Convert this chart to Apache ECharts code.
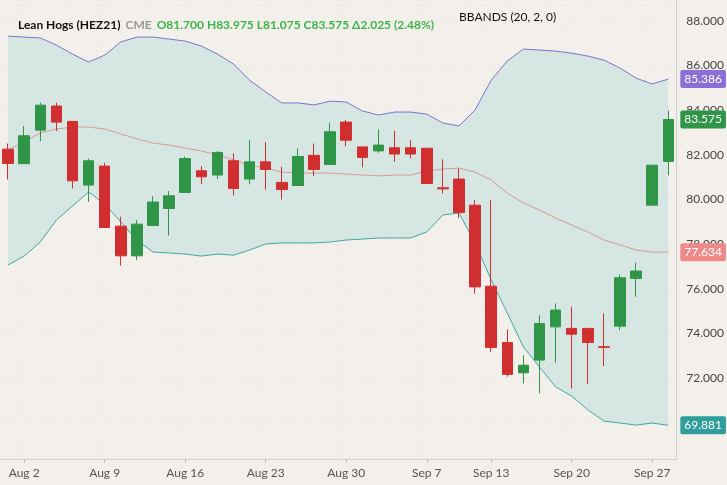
<!DOCTYPE html>
<html>
<head>
<meta charset="utf-8">
<script src="https://cdn.jsdelivr.net/npm/echarts@6/dist/echarts.min.js"></script>
<style>
  html, body { margin: 0; padding: 0; background: #f3f0eb; }
  #chart { width: 727px; height: 485px; }
</style>
</head>
<body>
<div id="chart"></div>
<script>
// trading days, Jul 30 .. Sep 28
var dates = ['Jul 30',
  'Aug 2','Aug 3','Aug 4','Aug 5','Aug 6',
  'Aug 9','Aug 10','Aug 11','Aug 12','Aug 13',
  'Aug 16','Aug 17','Aug 18','Aug 19','Aug 20',
  'Aug 23','Aug 24','Aug 25','Aug 26','Aug 27',
  'Aug 30','Aug 31','Sep 1','Sep 2','Sep 3',
  'Sep 7','Sep 8','Sep 9','Sep 10',
  'Sep 13','Sep 14','Sep 15','Sep 16','Sep 17',
  'Sep 20','Sep 21','Sep 22','Sep 23','Sep 24',
  'Sep 27','Sep 28'];
var tickDates = ['Aug 2','Aug 9','Aug 16','Aug 23','Aug 30','Sep 7','Sep 13','Sep 20','Sep 27'];

var opens  = [82.25,81.60,83.10,84.18,83.49,80.64,81.49,78.80,77.47,78.83,79.59,80.31,81.28,81.09,81.73,80.91,81.68,80.76,80.62,81.97,81.56,83.46,82.35,82.17,82.31,82.31,82.29,80.52,80.91,79.74,76.11,73.59,72.23,72.80,74.29,74.22,74.22,73.40,74.32,76.46,79.74,81.70];
var closes = [81.61,82.85,84.22,83.46,80.83,81.73,78.74,77.47,78.89,79.88,80.16,81.83,81.01,82.10,80.49,81.68,81.34,80.44,81.92,81.34,83.03,82.65,81.88,82.43,82.03,82.03,80.71,80.47,79.41,76.08,73.37,72.16,72.57,74.44,75.04,73.96,73.59,73.37,76.49,76.79,81.53,83.575];
var lows   = [80.89,81.60,82.61,83.06,80.49,79.89,78.74,77.04,77.28,78.83,78.38,80.31,80.68,80.91,80.17,80.67,80.44,79.99,80.62,81.04,81.56,82.38,81.43,82.09,81.68,81.83,80.68,80.26,79.17,75.78,73.17,72.05,71.75,71.31,72.69,71.53,71.72,72.53,74.14,75.64,79.74,81.075];
var highs  = [82.50,83.28,84.33,84.33,83.49,81.82,81.64,79.22,79.07,80.14,80.37,81.91,81.49,82.16,82.06,82.65,82.56,81.46,82.28,82.50,83.43,83.55,82.35,83.13,83.07,82.65,82.29,81.79,81.38,79.97,79.97,74.17,73.02,74.81,75.34,75.19,74.22,74.89,76.64,77.16,81.53,83.975];

var upperBand  = [87.31,87.27,87.23,86.91,86.51,86.15,86.46,87.05,87.27,87.27,87.18,87.09,86.87,86.51,86.06,85.34,84.81,84.32,84.32,84.23,84.40,84.36,83.96,83.78,83.91,83.91,83.82,83.42,83.29,84.00,85.34,86.20,86.73,86.69,86.64,86.55,86.42,86.24,85.88,85.43,85.17,85.386];
var middleBand = [82.21,82.57,82.97,83.15,83.24,83.24,83.15,82.93,82.71,82.52,82.43,82.30,82.17,81.99,81.77,81.54,81.40,81.22,81.18,81.18,81.18,81.13,81.09,81.05,81.09,81.09,81.27,81.36,81.40,81.22,80.87,80.28,79.84,79.52,79.16,78.85,78.54,78.18,77.96,77.73,77.64,77.634];
var lowerBand  = [77.06,77.46,78.09,79.07,79.70,80.33,79.79,78.99,78.18,77.64,77.60,77.55,77.46,77.55,77.50,77.73,78.00,78.05,78.05,78.05,78.09,78.18,78.22,78.27,78.27,78.27,78.54,79.30,79.39,78.05,76.39,74.91,73.39,72.49,71.60,71.19,70.57,70.07,69.98,69.89,69.98,69.881];

var GREEN = '#2f9647', RED = '#d12f2f';
var UP = '#7d74cc', MID = '#d99a98', LOW = '#3fa8a2';

var candles = dates.map(function (d, i) { return [opens[i], closes[i], lows[i], highs[i]]; });
var bandWidth = upperBand.map(function (u, i) { return +(u - lowerBand[i]).toFixed(3); });

function tag(bg) {
  return { show: true, distance: 12, backgroundColor: bg, color: '#fff', fontSize: 12,
    fontFamily: 'Lato', padding: [3, 4], borderRadius: 2,
    formatter: function (p) { return p.value.toFixed(3); } };
}

var myChart = echarts.init(document.getElementById('chart'));
var option = {
  backgroundColor: '#f3f0eb',
  animation: false,
  title: {
    left: 13, top: 11,
    text: '{n|Lean Hogs (HEZ21)} {g|CME} {v|O81.700 H83.975 L81.075 C83.575 Δ2.025 (2.48%)}',
    textStyle: {
      rich: {
        n: { fontFamily: 'Lato', fontSize: 12, color: '#111' },
        g: { fontFamily: 'Lato', fontSize: 12, color: '#999' },
        v: { fontFamily: 'Lato', fontSize: 12, color: '#3cb44a' }
      }
    }
  },
  graphic: [{ type: 'text', left: 459, top: 11,
    style: { text: 'BBANDS (20, 2, 0)', font: '12px Lato', fill: '#111' } }],
  grid: { left: 0, right: 47, top: 0, bottom: 26 },
  xAxis: {
    type: 'category', data: dates, boundaryGap: true,
    axisLine: { lineStyle: { color: '#cfcfcf' } },
    axisTick: { show: true, alignWithLabel: true, length: 4, lineStyle: { color: '#bbb' },
      interval: function (i, v) { return tickDates.indexOf(v) >= 0; } },
    axisLabel: { color: '#555', fontFamily: 'Lato', fontSize: 12, margin: 8,
      interval: function (i, v) { return tickDates.indexOf(v) >= 0; } },
    splitLine: { show: true, lineStyle: { color: '#dcdcdc', type: [1, 4] },
      interval: function (i, v) { return tickDates.indexOf(v) >= 0; } }
  },
  yAxis: {
    type: 'value', position: 'right', scale: true,
    min: 68.37, max: 88.93, splitNumber: 10, minInterval: 2, maxInterval: 2,
    axisLine: { show: true, lineStyle: { color: '#cfcfcf' } },
    axisTick: { show: false },
    axisLabel: { color: '#444', fontFamily: 'Lato', fontSize: 12, margin: 10,
      showMinLabel: false, showMaxLabel: false,
      formatter: function (v) { return v.toFixed(3); } },
    splitLine: { lineStyle: { color: '#dcdcdc', type: [1, 4] } }
  },
  series: [
    { name: 'lowerBase', type: 'line', data: lowerBand, stack: 'bb', symbol: 'none',
      lineStyle: { opacity: 0 }, silent: true, z: 1 },
    { name: 'band', type: 'line', data: bandWidth, stack: 'bb', symbol: 'none',
      lineStyle: { opacity: 0 }, areaStyle: { color: '#d6e6e2', opacity: 1 }, silent: true, z: 1 },
    { name: 'upper', type: 'line', data: upperBand, symbol: 'none', z: 2,
      lineStyle: { color: UP, width: 1 }, endLabel: tag('#8c6fd6') },
    { name: 'middle', type: 'line', data: middleBand, symbol: 'none', z: 2,
      lineStyle: { color: MID, width: 1 }, endLabel: tag('#ee8a8a') },
    { name: 'lower', type: 'line', data: lowerBand, symbol: 'none', z: 2,
      lineStyle: { color: LOW, width: 1 }, endLabel: tag('#2f9e9c') },
    { name: 'last', type: 'line', data: closes, symbol: 'none', z: 2,
      lineStyle: { opacity: 0 }, endLabel: tag('#2f9647') },
    { name: 'HEZ21', type: 'candlestick', data: candles, barWidth: 11, z: 3,
      itemStyle: { color: GREEN, color0: RED, borderColor: GREEN, borderColor0: RED, borderWidth: 1 } }
  ]
};
myChart.setOption(option);
</script>
</body>
</html>
